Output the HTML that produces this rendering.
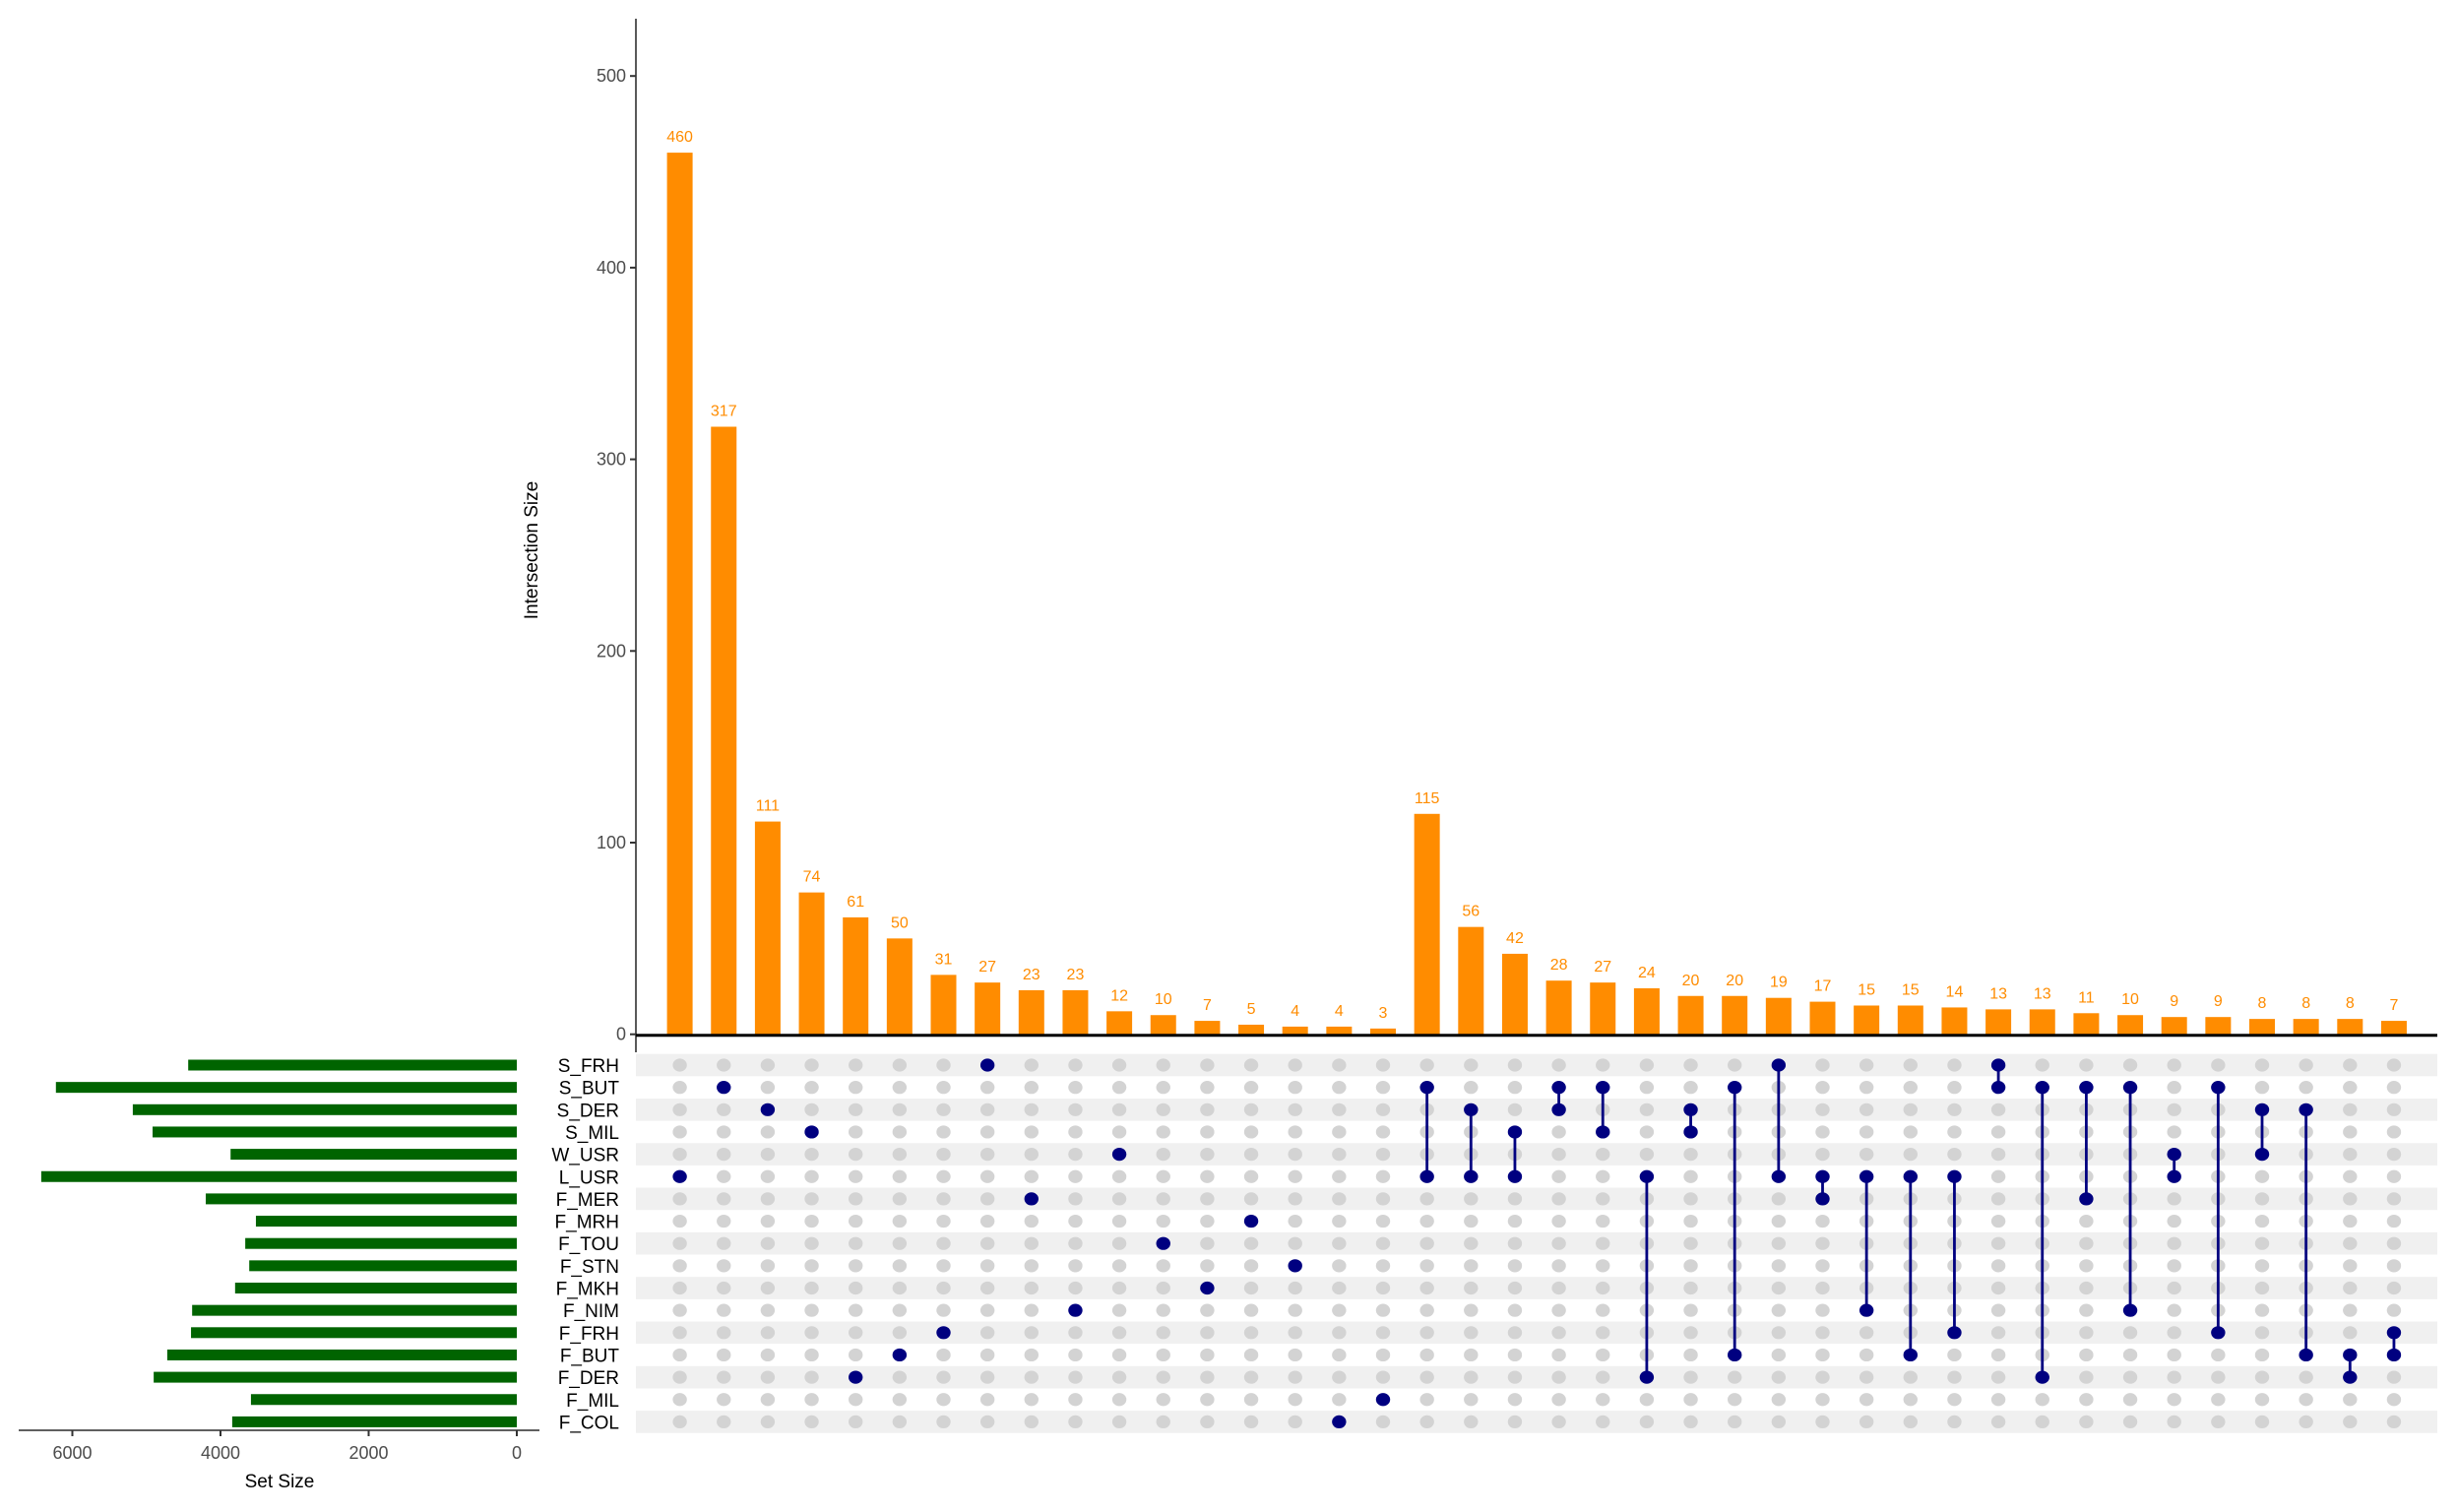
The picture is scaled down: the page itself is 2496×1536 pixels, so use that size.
<!DOCTYPE html>
<html><head><meta charset="utf-8"><style>
html,body{margin:0;padding:0;background:#fff;}
svg{display:block;font-family:"Liberation Sans",Arial,sans-serif;}
</style></head><body>
<svg id="chart" width="2496" height="1536" viewBox="0 0 2496 1536" xmlns="http://www.w3.org/2000/svg"></svg>
<script>
const setNames=["S_FRH","S_BUT","S_DER","S_MIL","W_USR","L_USR","F_MER","F_MRH","F_TOU","F_STN","F_MKH","F_NIM","F_FRH","F_BUT","F_DER","F_MIL","F_COL"];
const setSizes=[4436,6222,5184,4917,3864,6420,4199,3522,3666,3612,3803,4383,4398,4719,4902,3589,3842];
const intersectionSizes=[460,317,111,74,61,50,31,27,23,23,12,10,7,5,4,4,3,115,56,42,28,27,24,20,20,19,17,15,15,14,13,13,11,10,9,9,8,8,8,7];
const memberships=[[5],[1],[2],[3],[14],[13],[12],[0],[6],[11],[4],[8],[10],[7],[9],[16],[15],[1,5],[2,5],[3,5],[1,2],[1,3],[5,14],[2,3],[1,13],[0,5],[5,6],[5,11],[5,13],[5,12],[0,1],[1,14],[1,6],[1,11],[4,5],[1,12],[2,4],[2,13],[13,14],[12,13]];
const yTicks=[0,100,200,300,400,500];
const setTicks=[6000,4000,2000,0];

const svg=document.getElementById('chart');
const NS='http://www.w3.org/2000/svg';
function mk(tag,attrs,parent){const e=document.createElementNS(NS,tag);for(const k in attrs)e.setAttribute(k,attrs[k]);(parent||svg).appendChild(e);return e;}

const axisX=646, y0=1050.7, pxPerUnit=1.947;
const yScale=v=>y0-v*pxPerUnit;
const col0=690.6, colStep=44.65;
const xCol=i=>col0+i*colStep;
const row0=1082, rowStep=22.65;
const yRow=r=>row0+r*rowStep;
const setZero=525, setPx=0.07525;
const xSet=v=>setZero-v*setPx;

for(let r=0;r<setNames.length;r++){
  if(r%2===0){
    const b=mk('rect',{x:axisX,y:yRow(r)-rowStep/2,width:2476-axisX,height:rowStep,fill:'#f0f0f0'});
    
    
  }
}
let yl=mk('line',{x1:axisX,y1:19,x2:axisX,y2:1069,stroke:'#000','stroke-width':1.3});


yTicks.forEach(t=>{
  const y=yScale(t);
  mk('line',{x1:axisX-6,y1:y,x2:axisX,y2:y,stroke:'#333','stroke-width':2});
  const tx=mk('text',{x:axisX-10,y:y+6,'text-anchor':'end','font-size':18,fill:'#4d4d4d'});
  tx.textContent=t;
  
  
});
const yt=mk('text',{x:0,y:0,'text-anchor':'middle','font-size':19,fill:'#000',transform:'translate(546,559) rotate(-90)'});
yt.textContent='Intersection Size';



intersectionSizes.forEach((v,i)=>{
  const x=xCol(i);
  const b=mk('rect',{x:x-13,y:yScale(v),width:26,height:v*pxPerUnit,fill:'#ff8c00'});
  
  
  const t=mk('text',{x:x,y:yScale(v)-11,'text-anchor':'middle','font-size':16,fill:'#ff8c00'});
  t.textContent=v;
  
  
});
let bl=mk('line',{x1:axisX,y1:y0+1,x2:2476,y2:y0+1,stroke:'#000','stroke-width':3});



memberships.forEach((m,i)=>{
  const x=xCol(i);
  for(let r=0;r<setNames.length;r++){
    if(m.indexOf(r)<0){
      const c=mk('ellipse',{cx:x,cy:yRow(r),rx:7.2,ry:6.6,fill:'#d3d3d3'});
      
      
    }
  }
  if(m.length>1){
    const l=mk('line',{x1:x,y1:yRow(Math.min(...m)),x2:x,y2:yRow(Math.max(...m)),stroke:'#000080','stroke-width':2.8});
    
    
  }
  m.forEach(r=>{
    const c=mk('ellipse',{cx:x,cy:yRow(r),rx:7.2,ry:6.6,fill:'#000080'});
    
    
  });
});

setNames.forEach((n,r)=>{
  const y=yRow(r);
  const t=mk('text',{x:629,y:y+7,'text-anchor':'end','font-size':19,fill:'#000'});
  t.textContent=n;
  
  
  const v=setSizes[r];
  const b=mk('rect',{x:xSet(v),y:y-5.5,width:v*setPx,height:11,fill:'#006400'});
  
  
});
let sl=mk('line',{x1:19,y1:1453,x2:548,y2:1453,stroke:'#000','stroke-width':1.3});


setTicks.forEach(t=>{
  const x=xSet(t);
  mk('line',{x1:x,y1:1453,x2:x,y2:1459,stroke:'#333','stroke-width':2});
  const tx=mk('text',{x:x,y:1482,'text-anchor':'middle','font-size':18,fill:'#4d4d4d'});
  tx.textContent=t;
  
  
});
const st=mk('text',{x:284,y:1511,'text-anchor':'middle','font-size':19,fill:'#000'});
st.textContent='Set Size';


</script>
</body></html>
